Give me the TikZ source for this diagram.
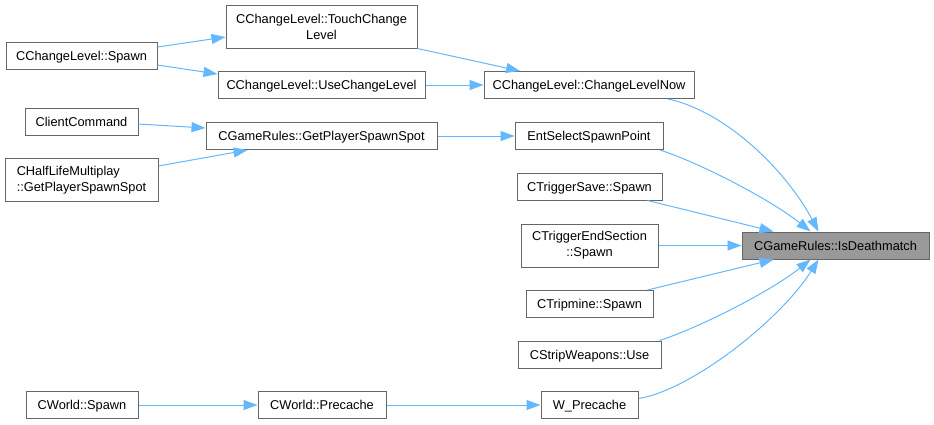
\documentclass[tikz,border=0pt]{standalone}
\usepackage{fontspec}
\setmainfont{Liberation Sans}
\usetikzlibrary{arrows.meta}
\definecolor{edgeblue}{HTML}{63B8FF}
\definecolor{boxborder}{HTML}{666666}
\definecolor{hilite}{HTML}{999999}
\begin{document}
\begin{tikzpicture}[x=1pt,y=-1pt,
 box/.style={draw=boxborder, fill=white, line width=1pt, inner sep=0pt, minimum height=27pt, font=\fontsize{12.8}{16}\selectfont, align=center},
 one/.style={box, text height=9.2pt, text depth=0pt},
 tall/.style={box, minimum height=43pt},
 cur/.style={one, fill=hilite},
 link/.style={draw=edgeblue, line width=1pt, -{Triangle[length=14pt,width=10pt]}}]
\useasboundingbox[fill=white] (0,0) rectangle (934,424);
\node[tall, minimum width=191pt] (tcl) at (321.5,26.5) {CChangeLevel::TouchChange\\Level};
\node[one, minimum width=151pt] (cls) at (81.5,56) {CChangeLevel::Spawn};
\node[one, minimum width=207pt] (ucl) at (321.5,85) {CChangeLevel::UseChangeLevel};
\node[one, minimum width=113pt] (cc) at (81.5,121.5) {ClientCommand};
\node[one, minimum width=231pt] (gps) at (321.5,136) {CGameRules::GetPlayerSpawnSpot};
\node[tall, minimum width=153pt, align=left] (hlm) at (81.5,180) {CHalfLifeMultiplay\\::GetPlayerSpawnSpot};
\node[one, minimum width=210pt] (cln) at (589,85) {CChangeLevel::ChangeLevelNow};
\node[one, minimum width=148pt] (esp) at (589,136) {EntSelectSpawnPoint};
\node[one, minimum width=145pt] (ts) at (589.5,186.5) {CTriggerSave::Spawn};
\node[tall, minimum width=137pt] (tes) at (589.5,245.5) {CTriggerEndSection\\::Spawn};
\node[cur, minimum width=187pt] (id) at (835.5,245.5) {CGameRules::IsDeathmatch};
\node[one, minimum width=127pt] (tm) at (589.5,304) {CTripmine::Spawn};
\node[one, minimum width=143pt] (sw) at (589.5,354.5) {CStripWeapons::Use};
\node[one, minimum width=97pt] (wp) at (589.5,405) {W\_Precache};
\node[one, minimum width=112pt] (ws) at (82,405) {CWorld::Spawn};
\node[one, minimum width=128pt] (wpc) at (322,405) {CWorld::Precache};

\draw[link] ([yshift=9pt]cls.east) -- ([yshift=-10.5pt]tcl.west);
\draw[link] ([yshift=-9pt]cls.east) -- ([yshift=11pt]ucl.west);
\draw[link] (tcl.south east) -- ([xshift=-69pt]cln.north);
\draw[link] (ucl.east) -- (cln.west);
\draw[link] ([yshift=-2.5pt]cc.east) -- ([yshift=8pt]gps.west);
\draw[link] ([yshift=14pt]hlm.east) -- ([xshift=-74pt]gps.south);
\draw[link] (gps.east) -- (esp.west);
\draw[link] ([xshift=79pt]cln.south) .. controls +(57,12) and +(-33,-62) .. ([xshift=-17pt]id.north);
\draw[link] ([xshift=71pt]esp.south) .. controls +(40,13) and +(-40,-32) .. ([xshift=-25pt]id.north);
\draw[link] ([xshift=58pt]ts.south) -- ([xshift=-62pt]id.north);
\draw[link] (tes.east) -- (id.west);
\draw[link] ([xshift=58pt]tm.north) -- ([xshift=-62pt]id.south);
\draw[link] ([xshift=70pt]sw.north) .. controls +(40,-13) and +(-40,32) .. ([xshift=-25pt]id.south);
\draw[link] ([yshift=6.5pt]wp.east) .. controls +(52,-8) and +(-38.5,61) .. ([xshift=-17pt]id.south);
\draw[link] (ws.east) -- (wpc.west);
\draw[link] (wpc.east) -- (wp.west);
\end{tikzpicture}
\end{document}
